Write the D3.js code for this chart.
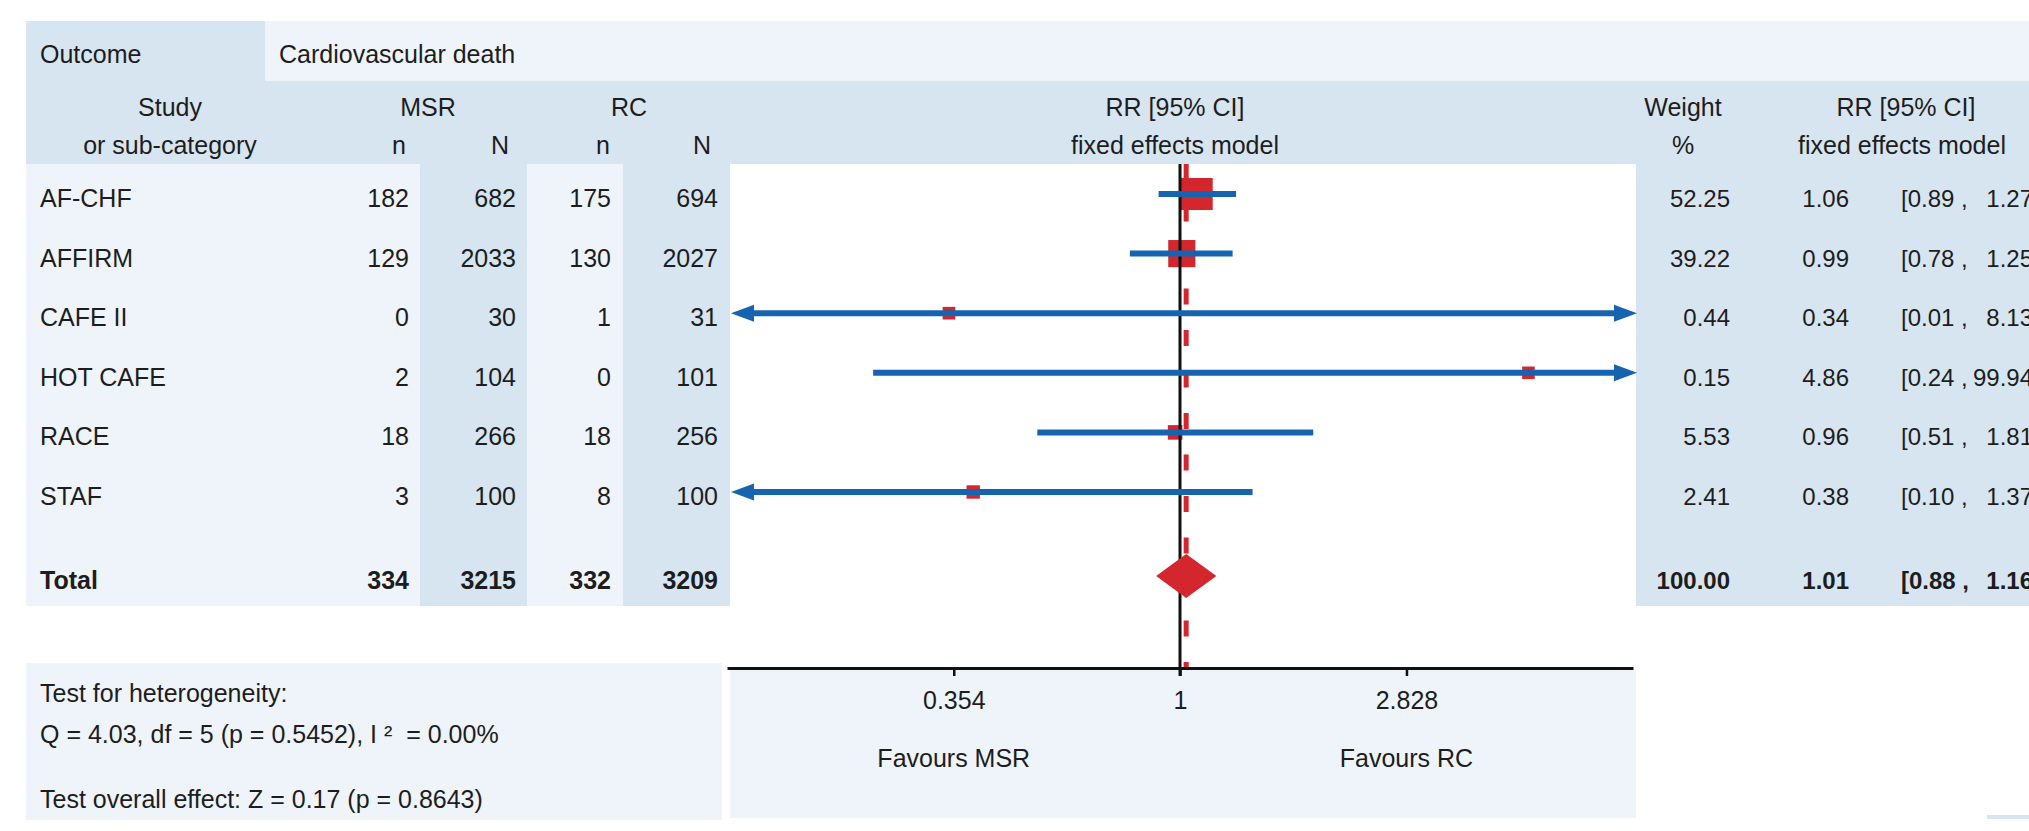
<!DOCTYPE html>
<html>
<head>
<meta charset="utf-8">
<title>Cardiovascular death - forest plot</title>
<script src="https://cdn.jsdelivr.net/npm/d3@7"></script>
<style>
  body { margin: 0; background: #fff; }
  svg text { font-family: "Liberation Sans", Arial, sans-serif; font-size: 25px; fill: #1d1d1d; white-space: pre; }
  svg text.rt { font-size: 24px; }
</style>
</head>
<body>
<div id="chart"></div>
<script>
// ===========================
// data
// ===========================
const studies = ["AF-CHF", "AFFIRM", "CAFE II", "HOT CAFE", "RACE", "STAF"];
const msrEvents = [182, 129, 0, 2, 18, 3];
const msrTotals = [682, 2033, 30, 104, 266, 100];
const rcEvents = [175, 130, 1, 0, 18, 8];
const rcTotals = [694, 2027, 31, 101, 256, 100];
const weights = [52.25, 39.22, 0.44, 0.15, 5.53, 2.41];
const rr = [1.06, 0.99, 0.34, 4.86, 0.96, 0.38];
const ciLow = [0.89, 0.78, 0.01, 0.24, 0.51, 0.10];
const ciHigh = [1.27, 1.25, 8.13, 99.94, 1.81, 1.37];

const totalCounts = [334, 3215, 332, 3209];
const totalWeight = 100.00;
const totalRR = 1.01;
const totalCI = [0.88, 1.16];

const axisTicks = [0.354, 1, 2.828];
const favourLabels = ["Favours MSR", "Favours RC"];
const testLines = [
  "Test for heterogeneity:",
  "Q = 4.03, df = 5 (p = 0.5452), I ²  = 0.00%",
  "Test overall effect: Z = 0.17 (p = 0.8643)"
];

// colours
const dark = "#d7e5f1";
const light = "#eef4fa";
const blue = "#1664b0";
const red = "#d3262d";

const W = 2029, H = 831;
const svg = d3.select("#chart").append("svg")
  .attr("width", W)
  .attr("height", H);

// ========= background panels ========= //
function panel(x0, y0, x1, y1, fill) {
  svg.append("rect")
    .attr("x", x0).attr("y", y0)
    .attr("width", x1 - x0).attr("height", y1 - y0)
    .style("fill", fill);
}
panel(26, 21, 265, 81, dark);      // "Outcome" cell
panel(265, 21, W, 81, light);      // outcome value
panel(26, 81, W, 164, dark);       // column headers
panel(26, 164, 420, 606, light);   // study + MSR n
panel(420, 164, 527, 606, dark);   // MSR N
panel(527, 164, 623, 606, light);  // RC n
panel(623, 164, 730, 606, dark);   // RC N
panel(1636, 164, W, 606, dark);    // weight + RR columns
panel(26, 663, 722, 820, light);   // test statistics
panel(730, 670, 1636, 818, light); // below axis
panel(1987, 815, W, 819, dark);

// ========= scales ========= //
// axis scale, and the marks sit a few px right of it in the original
const xAxis = d3.scaleLog().domain([0.125, 8]).range([727, 1633]);
const x = xAxis.copy().range(xAxis.range().map(v => v + 4));
const y = d3.scaleLinear().domain([0, studies.length - 1]).range([194, 492]);
const yTotal = 576;
const side = d3.scaleLinear().domain([0, 52.25]).range([12.5, 32]);
const f2 = d3.format(".2f");

// ========= header text ========= //
function label(txt, px, py, anchor, bold, cls) {
  return svg.append("text")
    .attr("class", cls || null)
    .attr("x", px).attr("y", py)
    .attr("text-anchor", anchor || "start")
    .style("font-weight", bold ? "bold" : null)
    .text(txt);
}
label("Outcome", 40, 63);
label("Cardiovascular death", 279, 63);
label("Study", 170, 116, "middle");
label("or sub-category", 170, 154, "middle");
label("MSR", 428, 116, "middle");
label("RC", 629, 116, "middle");
label("n", 399, 154, "middle");
label("N", 500, 154, "middle");
label("n", 603, 154, "middle");
label("N", 702, 154, "middle");
label("RR [95% CI]", 1175, 116, "middle");
label("fixed effects model", 1175, 154, "middle");
label("Weight", 1683, 116, "middle");
label("%", 1683, 154, "middle");
label("RR [95% CI]", 1906, 116, "middle");
label("fixed effects model", 1902, 154, "middle");

// ========= table rows ========= //
const countCols = [409, 516, 611, 718];
studies.forEach((s, i) => {
  const by = y(i) + 13;
  label(s, 40, by);
  [msrEvents[i], msrTotals[i], rcEvents[i], rcTotals[i]].forEach((v, j) => {
    label(v, countCols[j], by, "end");
  });
  label(f2(weights[i]), 1730, by, "end", false, "rt");
  label(f2(rr[i]), 1849, by, "end", false, "rt");
  label("[" + f2(ciLow[i]) + " ,", 1901, by, "start", false, "rt");
  label(f2(ciHigh[i]), 2033, by, "end", false, "rt");
  label("]", 2033, by, "start", false, "rt");
});

const tb = yTotal + 13;
label("Total", 40, tb, "start", true);
totalCounts.forEach((v, j) => label(v, countCols[j], tb, "end", true));
label(f2(totalWeight), 1730, tb, "end", true, "rt");
label(f2(totalRR), 1849, tb, "end", true, "rt");
label("[" + f2(totalCI[0]) + " ,", 1901, tb, "start", true, "rt");
label(f2(totalCI[1]), 2033, tb, "end", true, "rt");
label("]", 2033, tb, "start", true, "rt");

// ========= forest plot ========= //
const plot = svg.append("g");
const axisY = 668;

// weight squares
plot.selectAll("rect.sq")
  .data(studies)
  .join("rect")
  .attr("class", "sq")
  .attr("x", (d, i) => x(rr[i]) - side(weights[i]) / 2)
  .attr("y", (d, i) => y(i) - side(weights[i]) / 2)
  .attr("width", (d, i) => side(weights[i]))
  .attr("height", (d, i) => side(weights[i]))
  .style("fill", red);

// line of no effect
plot.append("line")
  .attr("x1", xAxis(1)).attr("x2", xAxis(1))
  .attr("y1", 164).attr("y2", axisY + 8)
  .style("stroke", "#111")
  .style("stroke-width", 3);

// pooled estimate, dashed
plot.append("line")
  .attr("x1", x(totalRR)).attr("x2", x(totalRR))
  .attr("y1", 164).attr("y2", axisY)
  .style("stroke", red)
  .style("stroke-width", 5)
  .style("stroke-dasharray", "16 25.5");

// confidence intervals, with arrows where they leave the axis
const [xmin, xmax] = x.domain();
const headLen = 23, headHalf = 8.5;
studies.forEach((s, i) => {
  const cy = y(i);
  const leftOut = ciLow[i] < xmin, rightOut = ciHigh[i] > xmax;
  const x0 = x(Math.max(ciLow[i], xmin));
  const x1 = x(Math.min(ciHigh[i], xmax));
  plot.append("line")
    .attr("x1", leftOut ? x0 + headLen - 2 : x0)
    .attr("x2", rightOut ? x1 - headLen + 2 : x1)
    .attr("y1", cy).attr("y2", cy)
    .style("stroke", blue)
    .style("stroke-width", 6);
  if (leftOut) {
    plot.append("path")
      .attr("d", `M${x0},${cy}L${x0 + headLen},${cy - headHalf}L${x0 + headLen},${cy + headHalf}Z`)
      .style("fill", blue);
  }
  if (rightOut) {
    plot.append("path")
      .attr("d", `M${x1},${cy}L${x1 - headLen},${cy - headHalf}L${x1 - headLen},${cy + headHalf}Z`)
      .style("fill", blue);
  }
});

// pooled diamond
plot.append("path")
  .attr("d", `M${x(totalCI[0])},${yTotal}L${x(totalRR)},${yTotal - 22}L${x(totalCI[1])},${yTotal}L${x(totalRR)},${yTotal + 22}Z`)
  .style("fill", red);

// axis
const axis = svg.append("g")
  .attr("transform", `translate(0,${axisY})`)
  .call(d3.axisBottom(xAxis)
    .tickValues(axisTicks)
    .tickFormat(d => d)
    .tickSize(8)
    .tickSizeOuter(0)
    .tickPadding(15));
axis.attr("font-size", null).attr("font-family", null);
axis.select(".domain").style("stroke", "#111").style("stroke-width", 3);
axis.selectAll(".tick line").style("stroke", "#111").style("stroke-width", 2.5);
axis.selectAll(".tick text").style("fill", "#1d1d1d");

favourLabels.forEach((t, i) => {
  label(t, xAxis(axisTicks[i * 2]), 767, "middle");
});

// ========= test statistics ========= //
[702, 743, 808].forEach((by, i) => label(testLines[i], 40, by));
</script>
</body>
</html>
